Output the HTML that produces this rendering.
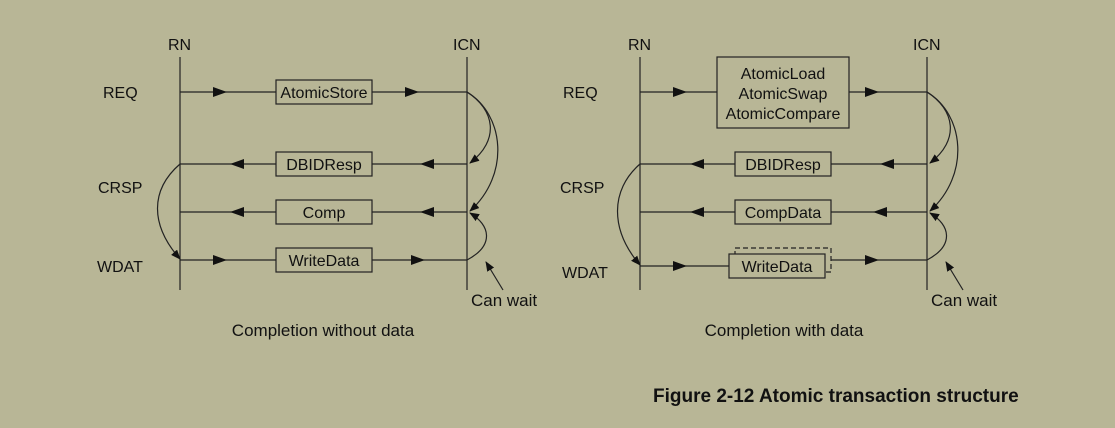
<!DOCTYPE html>
<html><head><style>
html,body{margin:0;padding:0;background:#b8b696;}
svg{display:block}
text{font-family:"Liberation Sans",Arial,sans-serif;font-size:16px;fill:#111}
</style></head><body>
<svg width="1115" height="428" viewBox="0 0 1115 428" xmlns="http://www.w3.org/2000/svg">
<rect width="1115" height="428" fill="#b8b696"/>
<defs>
<marker id="ah" markerWidth="10" markerHeight="8" refX="9" refY="4" orient="auto" markerUnits="userSpaceOnUse">
<path d="M0,0 L10,4 L0,8 Z" fill="#111"/>
</marker>
</defs>
<g stroke="#222" stroke-width="1.2" fill="none">
<line x1="180" y1="57" x2="180" y2="290"/>
<line x1="467" y1="57" x2="467" y2="290"/>
<line x1="180" y1="92" x2="276" y2="92"/><line x1="372" y1="92" x2="467" y2="92"/>
<line x1="180" y1="164" x2="276" y2="164"/><line x1="372" y1="164" x2="467" y2="164"/>
<line x1="180" y1="212" x2="276" y2="212"/><line x1="372" y1="212" x2="467" y2="212"/>
<line x1="180" y1="260" x2="276" y2="260"/><line x1="372" y1="260" x2="467" y2="260"/>
<rect x="276" y="80" width="96" height="24"/>
<rect x="276" y="152" width="96" height="24"/>
<rect x="276" y="200" width="96" height="24"/>
<rect x="276" y="248" width="96" height="24"/>
<path d="M467,92 C495,110 500,140 470,163" marker-end="url(#ah)"/>
<path d="M467,92 C505,115 510,175 470,211" marker-end="url(#ah)"/>
<path d="M467,260 C495,245 490,225 470,213" marker-end="url(#ah)"/>
<path d="M180,164 C150,190 150,225 180,259" marker-end="url(#ah)"/>
<line x1="503" y1="290" x2="486" y2="262" marker-end="url(#ah)"/>
<line x1="640" y1="57" x2="640" y2="290"/>
<line x1="927" y1="57" x2="927" y2="290"/>
<line x1="640" y1="92" x2="717" y2="92"/><line x1="849" y1="92" x2="927" y2="92"/>
<line x1="640" y1="164" x2="735" y2="164"/><line x1="831" y1="164" x2="927" y2="164"/>
<line x1="640" y1="212" x2="735" y2="212"/><line x1="831" y1="212" x2="927" y2="212"/>
<line x1="640" y1="266" x2="729" y2="266"/><line x1="831" y1="260" x2="927" y2="260"/>
<rect x="717" y="57" width="132" height="71"/>
<rect x="735" y="152" width="96" height="24"/>
<rect x="735" y="200" width="96" height="24"/>
<rect x="735" y="248" width="96" height="24" stroke-dasharray="5,3"/>
<rect x="729" y="254" width="96" height="24" fill="#b8b696"/>
<path d="M927,92 C955,110 960,140 930,163" marker-end="url(#ah)"/>
<path d="M927,92 C965,115 970,175 930,211" marker-end="url(#ah)"/>
<path d="M927,260 C955,245 950,225 930,213" marker-end="url(#ah)"/>
<path d="M640,164 C610,190 610,230 640,265" marker-end="url(#ah)"/>
<line x1="963" y1="290" x2="946" y2="262" marker-end="url(#ah)"/>
</g>
<g fill="#111">
<path d="M227,92 L213,87 L213,97Z"/><path d="M419,92 L405,87 L405,97Z"/>
<path d="M230,164 L244,159 L244,169Z"/><path d="M420,164 L434,159 L434,169Z"/>
<path d="M230,212 L244,207 L244,217Z"/><path d="M420,212 L434,207 L434,217Z"/>
<path d="M227,260 L213,255 L213,265Z"/><path d="M425,260 L411,255 L411,265Z"/>
<path d="M687,92 L673,87 L673,97Z"/><path d="M879,92 L865,87 L865,97Z"/>
<path d="M690,164 L704,159 L704,169Z"/><path d="M880,164 L894,159 L894,169Z"/>
<path d="M690,212 L704,207 L704,217Z"/><path d="M873,212 L887,207 L887,217Z"/>
<path d="M687,266 L673,261 L673,271Z"/><path d="M879,260 L865,255 L865,265Z"/>
</g>
<text x="168" y="50">RN</text><text x="453" y="50">ICN</text>
<text x="103" y="98">REQ</text><text x="98" y="193">CRSP</text><text x="97" y="272">WDAT</text>
<text x="324" y="98" text-anchor="middle">AtomicStore</text>
<text x="324" y="170" text-anchor="middle">DBIDResp</text>
<text x="324" y="218" text-anchor="middle">Comp</text>
<text x="324" y="266" text-anchor="middle">WriteData</text>
<text x="471" y="306" style="font-size:17px">Can wait</text>
<text x="323" y="336" text-anchor="middle" style="font-size:17px">Completion without data</text>
<text x="628" y="50">RN</text><text x="913" y="50">ICN</text>
<text x="563" y="98">REQ</text><text x="560" y="193">CRSP</text><text x="562" y="278">WDAT</text>
<text x="783" y="79" text-anchor="middle">AtomicLoad</text>
<text x="783" y="99" text-anchor="middle">AtomicSwap</text>
<text x="783" y="119" text-anchor="middle">AtomicCompare</text>
<text x="783" y="170" text-anchor="middle">DBIDResp</text>
<text x="783" y="218" text-anchor="middle">CompData</text>
<text x="777" y="272" text-anchor="middle">WriteData</text>
<text x="931" y="306" style="font-size:17px">Can wait</text>
<text x="784" y="336" text-anchor="middle" style="font-size:17px">Completion with data</text>
<text x="653" y="402" style="font-weight:bold;font-size:19px">Figure 2-12 Atomic transaction structure</text>
</svg>
</body></html>
